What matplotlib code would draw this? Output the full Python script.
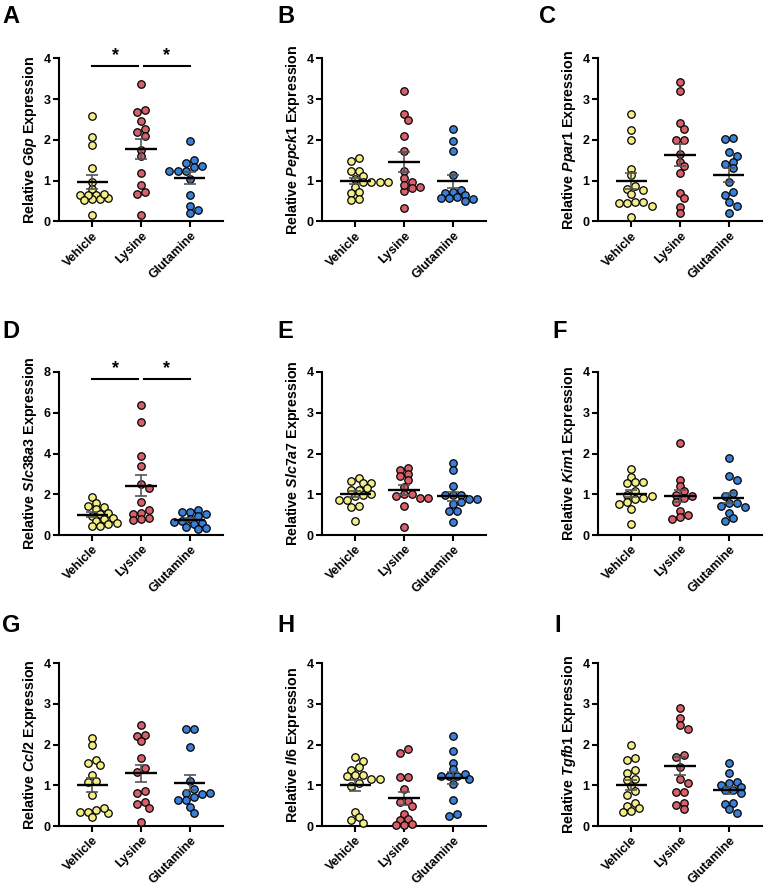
import numpy as np
import matplotlib
matplotlib.use("Agg")
import matplotlib.pyplot as plt

plt.rcParams['font.family'] = ['Liberation Sans', 'DejaVu Sans']
plt.rcParams['font.weight'] = 'bold'
plt.rcParams['mathtext.fontset'] = 'custom'
plt.rcParams['mathtext.it'] = 'Liberation Sans:italic:bold'
plt.rcParams['mathtext.rm'] = 'Liberation Sans:bold'

groups = ["Vehicle", "Lysine", "Glutamine"]
colors = ["#F4EE86", "#D8606B", "#3A80D8"]

genes = ["G6p", "Pepck1", "Ppar1", "Slc38a3", "Slc7a7", "Kim1", "Ccl2", "Il6", "Tgfb1"]
letters = ["A", "B", "C", "D", "E", "F", "G", "H", "I"]
ymax = [4, 4, 4, 8, 4, 4, 4, 4, 4]
ystep = [1, 1, 1, 2, 1, 1, 1, 1, 1]

g6p_veh = [2.58, 2.08, 1.88, 1.31, 0.97, 0.80, 0.66, 0.64, 0.57, 0.55, 0.54, 0.68, 0.17, 0.65, 0.52]
g6p_lys = [3.37, 2.69, 2.73, 2.47, 2.27, 2.20, 2.10, 1.75, 1.60, 1.20, 0.90, 0.73, 0.67, 0.15]
g6p_glu = [1.97, 1.52, 1.43, 1.33, 1.24, 1.36, 1.23, 1.23, 0.65, 0.39, 0.29, 0.20, 1.05]

pepck_veh = [1.55, 1.48, 1.25, 1.23, 1.12, 0.98, 0.97, 0.97, 0.97, 0.85, 0.73, 0.70, 0.52, 0.55, 1.05]
pepck_lys = [3.20, 2.63, 2.50, 2.10, 1.72, 1.23, 1.07, 0.97, 0.85, 0.82, 0.75, 0.33, 0.90]
pepck_glu = [2.28, 1.97, 1.73, 1.15, 0.78, 0.73, 0.70, 0.65, 0.60, 0.57, 0.57, 0.50, 0.55]

ppar_veh = [2.63, 2.25, 2.00, 1.30, 1.15, 0.88, 0.80, 0.78, 0.67, 0.47, 0.45, 0.47, 0.37, 0.45, 0.10]
ppar_lys = [3.42, 3.20, 2.42, 2.28, 2.00, 2.00, 1.65, 1.47, 1.35, 1.18, 0.70, 0.57, 0.35, 0.20]
ppar_glu = [2.03, 2.05, 1.70, 1.60, 1.47, 1.40, 1.32, 0.98, 0.72, 0.65, 0.47, 0.37, 0.20]

slc38_veh = [1.87, 1.58, 1.42, 1.35, 1.27, 1.10, 1.05, 0.93, 0.82, 0.78, 0.70, 0.60, 0.55, 0.45, 0.42]
slc38_lys = [6.37, 5.55, 3.87, 3.40, 2.50, 2.30, 1.60, 1.22, 1.10, 1.05, 0.78, 0.75, 0.85]
slc38_glu = [1.25, 1.15, 1.12, 1.03, 0.95, 0.80, 0.70, 0.62, 0.58, 0.55, 0.40, 0.35, 0.30]

slc7_veh = [1.40, 1.32, 1.27, 1.27, 1.10, 1.10, 1.00, 0.97, 0.95, 0.87, 0.87, 0.70, 0.68, 0.35, 1.15]
slc7_lys = [1.65, 1.60, 1.50, 1.45, 1.35, 1.18, 1.00, 1.00, 0.95, 0.90, 0.90, 0.70, 0.20]
slc7_glu = [1.77, 1.60, 1.20, 0.98, 0.97, 0.97, 0.88, 0.88, 0.82, 0.60, 0.60, 0.33, 0.75]

kim_veh = [1.62, 1.43, 1.30, 1.30, 1.27, 1.07, 0.98, 0.95, 0.92, 0.80, 0.75, 0.65, 0.88, 0.28]
kim_lys = [2.25, 1.35, 1.20, 1.07, 0.98, 0.95, 0.92, 0.82, 0.60, 0.50, 0.45, 0.40]
kim_glu = [1.88, 1.45, 1.35, 1.02, 0.95, 0.78, 0.78, 0.70, 0.68, 0.55, 0.42, 0.35]

ccl_veh = [2.15, 2.00, 1.62, 1.55, 1.50, 1.25, 1.10, 1.08, 0.75, 0.40, 0.35, 0.35, 0.32, 0.43, 0.22]
ccl_lys = [2.48, 2.23, 2.20, 2.08, 1.67, 1.42, 1.33, 0.87, 0.82, 0.58, 0.53, 0.45, 0.10]
ccl_glu = [2.37, 2.37, 1.93, 1.10, 0.90, 0.82, 0.78, 0.80, 0.72, 0.65, 0.63, 0.47, 0.33]

il6_veh = [1.70, 1.60, 1.45, 1.37, 1.25, 1.25, 1.22, 1.15, 1.15, 1.05, 0.98, 0.35, 0.22, 0.15, 0.08]
il6_lys = [1.88, 1.80, 1.20, 1.20, 0.92, 0.62, 0.60, 0.50, 0.30, 0.17, 0.15, 0.03, 0.03, 0.05]
il6_glu = [2.22, 1.85, 1.55, 1.40, 1.27, 1.22, 1.22, 1.22, 1.15, 1.02, 0.63, 0.30, 0.25]

tgfb_veh = [2.00, 1.67, 1.63, 1.38, 1.30, 1.15, 1.13, 0.97, 0.85, 0.75, 0.57, 0.50, 0.45, 0.38, 0.35]
tgfb_lys = [2.90, 2.65, 2.48, 2.38, 1.75, 1.70, 1.45, 1.15, 1.05, 0.83, 0.83, 0.57, 0.52, 0.42]
tgfb_glu = [1.55, 1.30, 1.07, 1.05, 1.00, 0.95, 0.88, 0.88, 0.80, 0.57, 0.55, 0.42, 0.32]

data = [
    [g6p_veh, g6p_lys, g6p_glu],
    [pepck_veh, pepck_lys, pepck_glu],
    [ppar_veh, ppar_lys, ppar_glu],
    [slc38_veh, slc38_lys, slc38_glu],
    [slc7_veh, slc7_lys, slc7_glu],
    [kim_veh, kim_lys, kim_glu],
    [ccl_veh, ccl_lys, ccl_glu],
    [il6_veh, il6_lys, il6_glu],
    [tgfb_veh, tgfb_lys, tgfb_glu],
]
significant = ["A", "D"]

W, H = 764, 888
fig = plt.figure(figsize=(W / 100, H / 100), dpi=100)

col_left = [59, 322, 598]
row_top = [58.5, 372, 663]
ax_w, ax_h = 164, 163
letter_x = [[2, 277, 539], [2, 277, 552], [2, 277, 554]]
letter_base = [23, 338, 632]

XMIN, XMAX = -0.68, 2.68
DIAM = 7.4  # marker diameter in px


def swarm_offsets(vals, ppu_x, ppu_y, d):
    """GraphPad-like row layout: close values share a row, rows interleave."""
    vals = np.asarray(vals, dtype=float)
    order = list(np.argsort(-vals))
    ypx = vals * ppu_y
    s = d * 1.1
    thr = d * 0.55
    mind = d * 0.8
    offs = np.zeros(len(vals))
    placed = []
    i = 0
    while i < len(order):
        row = [order[i]]
        j = i + 1
        while j < len(order) and ypx[order[i]] - ypx[order[j]] < thr:
            row.append(order[j])
            j += 1
        row = sorted(row, key=lambda k: vals[k])
        n = len(row)
        base = [(q - (n - 1) / 2) * s for q in range(n)]
        shifts = [0.0]
        for k in range(1, 12):
            shifts += [k * s / 2, -k * s / 2]
        best, best_score = 0.0, -1.0
        for sh in shifts:
            md = 1e9
            for q, k in enumerate(row):
                for (px, py) in placed:
                    dd = np.hypot(px - (base[q] + sh), py - ypx[k])
                    md = min(md, dd)
            if md >= mind:
                best = sh
                break
            if md > best_score:
                best_score, best = md, sh
        for q, k in enumerate(row):
            offs[k] = base[q] + best
            placed.append((offs[k], ypx[k]))
        i = j
    return offs / ppu_x


for idx in range(9):
    r, c = divmod(idx, 3)
    left = col_left[c] / W
    bottom = 1 - (row_top[r] + ax_h) / H
    ax = fig.add_axes([left, bottom, ax_w / W, ax_h / H])
    ppu_x = ax_w / (XMAX - XMIN)
    ppu_y = ax_h / ymax[idx]
    for g in range(3):
        vals = np.array(data[idx][g], dtype=float)
        offs = swarm_offsets(vals, ppu_x, ppu_y, DIAM)
        ax.scatter(g + offs, vals, s=29, facecolor=colors[g], edgecolor='black',
                   linewidth=0.9, zorder=3, clip_on=False)
        m = vals.mean()
        sem = vals.std(ddof=1) / np.sqrt(len(vals))
        ax.errorbar([g], [m], yerr=[sem], fmt='none', ecolor='#555555',
                    elinewidth=1.2, capsize=4.5, capthick=1.2, zorder=4)
        ax.plot([g - 0.32, g + 0.32], [m, m], color='black', lw=1.7, zorder=5,
                solid_capstyle='butt')
    ax.set_xlim(XMIN, XMAX)
    ax.set_ylim(0, ymax[idx])
    ax.set_yticks(np.arange(0, ymax[idx] + 0.01, ystep[idx]))
    ax.set_xticks(range(3))
    ax.set_xticklabels(groups, rotation=45, ha='right', rotation_mode='anchor',
                       fontsize=9, fontweight='bold')
    for lab in ax.get_yticklabels():
        lab.set_fontsize(9)
        lab.set_fontweight('bold')
    ax.spines['top'].set_visible(False)
    ax.spines['right'].set_visible(False)
    ax.spines['left'].set_linewidth(1.5)
    ax.spines['bottom'].set_linewidth(1.5)
    ax.tick_params(axis='both', width=1.5, length=4, pad=2)
    ax.set_ylabel("Relative $\\mathit{" + genes[idx] + "}$ Expression",
                  fontsize=10.3, fontweight='bold', labelpad=3)
    if letters[idx] in significant:
        yb = ymax[idx] * 0.957
        ya = ymax[idx] * 0.968
        ax.plot([0, 0.93], [yb, yb], color='black', lw=1.5, clip_on=False)
        ax.plot([1.07, 2], [yb, yb], color='black', lw=1.5, clip_on=False)
        ax.text(0.47, ya, "*", ha='center', va='bottom', fontsize=13,
                fontweight='bold', clip_on=False)
        ax.text(1.53, ya, "*", ha='center', va='bottom', fontsize=13,
                fontweight='bold', clip_on=False)
    fig.text(letter_x[r][c] / W, 1 - letter_base[r] / H, letters[idx],
             fontsize=17, fontweight='bold', ha='left', va='baseline')

fig.savefig("out.png", dpi=100)
